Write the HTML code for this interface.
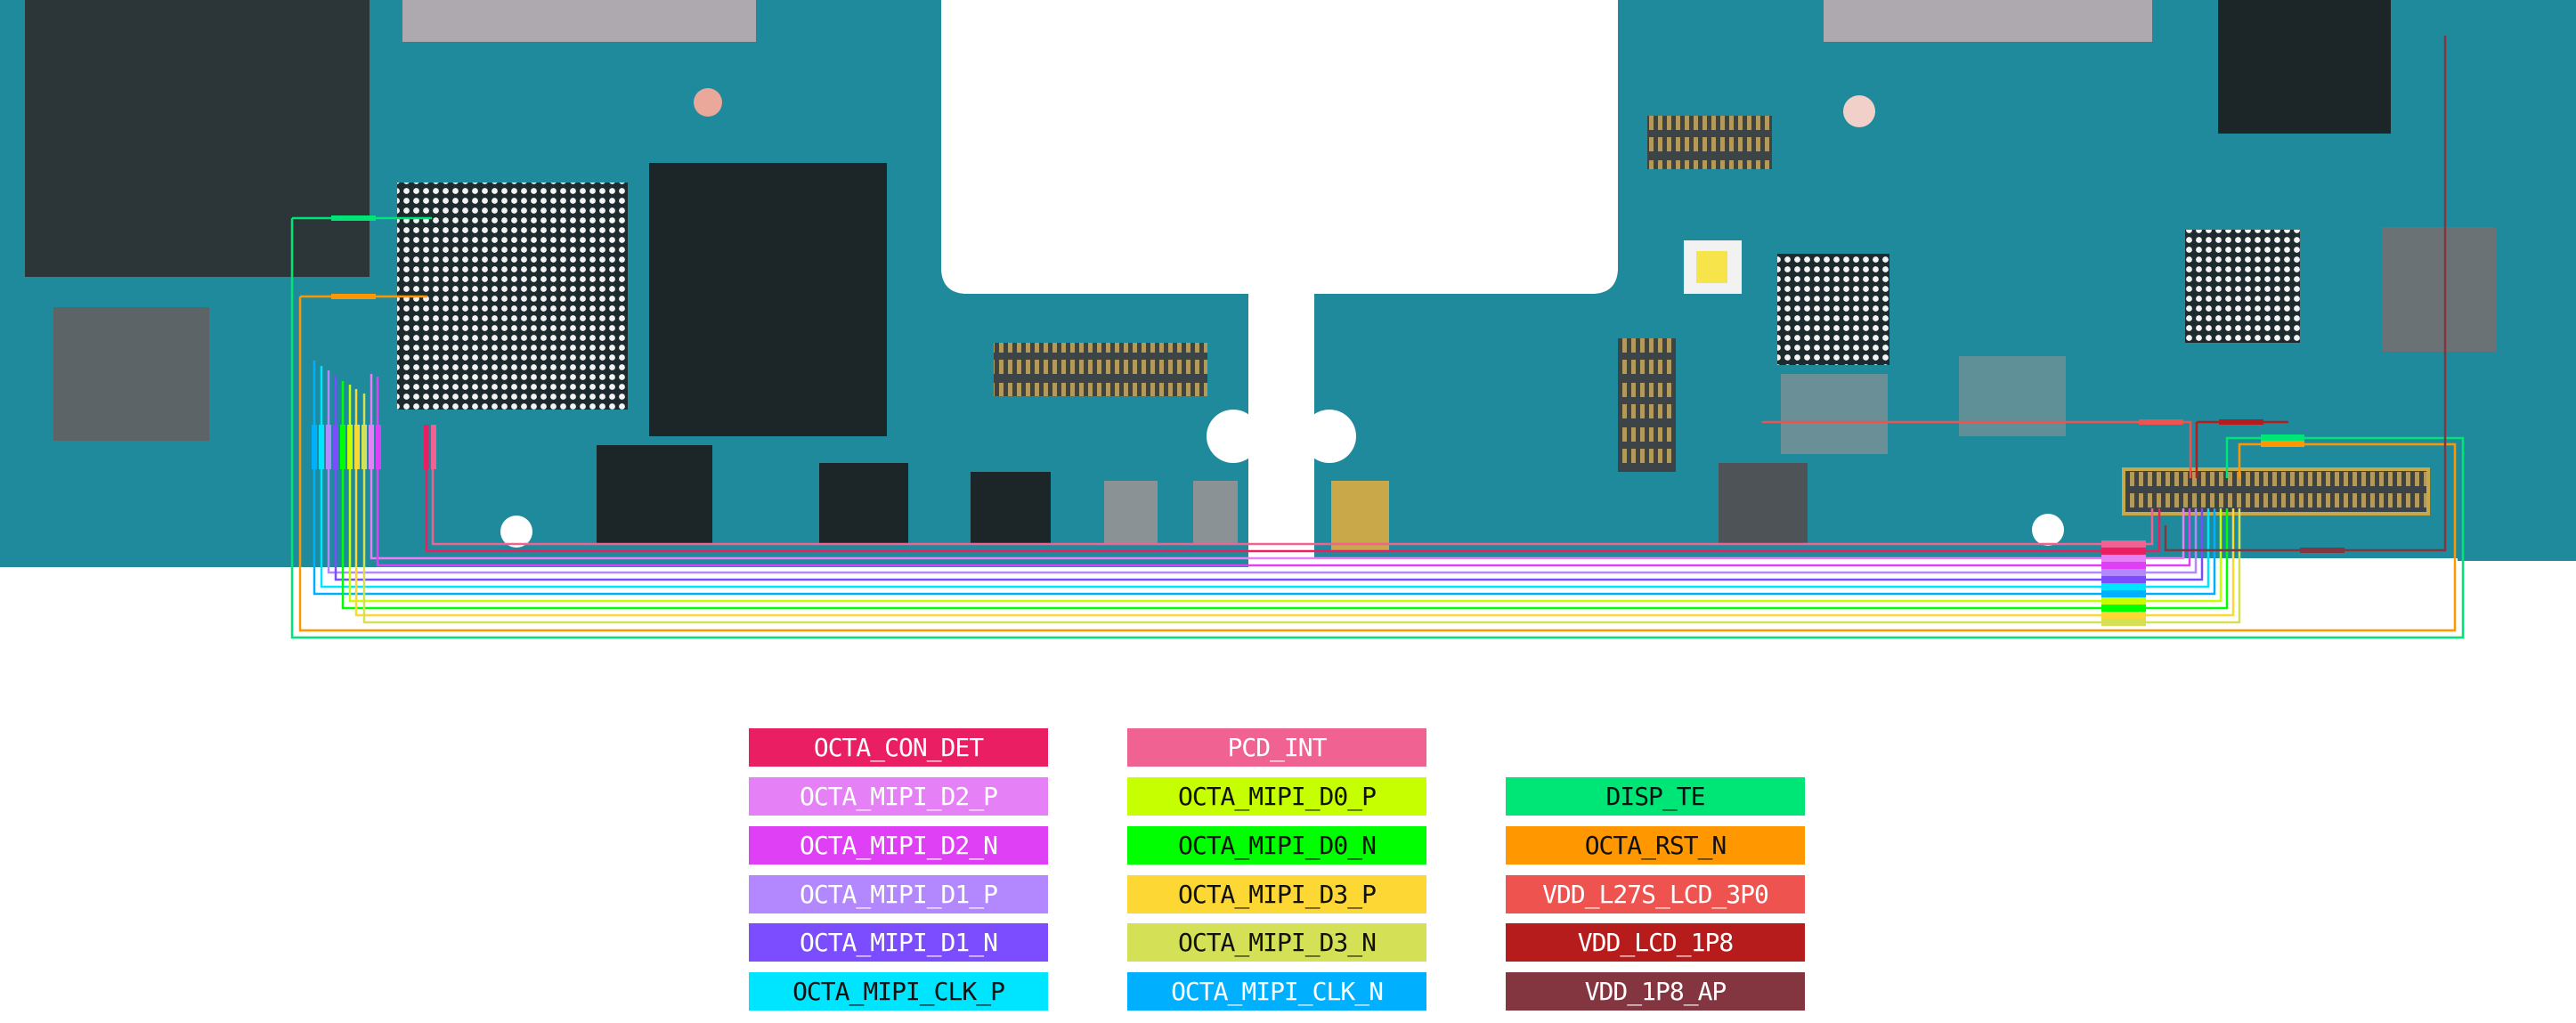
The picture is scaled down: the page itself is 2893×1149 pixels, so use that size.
<!DOCTYPE html>
<html><head><meta charset="utf-8"><style>
html,body{margin:0;padding:0;background:#fff;}
body{width:2893px;height:1149px;position:relative;overflow:hidden;}
svg{position:absolute;left:0;top:0;}
.lg{position:absolute;width:336px;height:43px;font-family:"DejaVu Sans Mono","Liberation Mono",monospace;font-size:28px;line-height:43px;text-align:center;color:#fff;letter-spacing:-1px;}
.dk{color:#111;}
</style></head><body>
<svg width="2893" height="1149" viewBox="0 0 2893 1149">
<defs>
<pattern id="bga" width="11" height="11" patternUnits="userSpaceOnUse"><rect width="11" height="11" fill="#1d2a2e"/><circle cx="5.5" cy="5.5" r="3.4" fill="#f4f4f4"/></pattern>
<pattern id="pins" width="10" height="50" patternUnits="userSpaceOnUse"><rect width="10" height="50" fill="#3d4448"/><rect x="2" y="4" width="5" height="16" fill="#b39a5a"/><rect x="2" y="30" width="5" height="16" fill="#b39a5a"/></pattern>
</defs>
<!-- boards -->
<path d="M0 0 H1057 V300 Q1057 330 1087 330 H1402 V637 H0 Z" fill="#1f8a9b"/>
<path d="M1817 0 H2893 V630 H2760 V627 H1476 V330 H1787 Q1817 330 1817 300 Z" fill="#1f8a9b"/>
<path d="M1057 0 H1817 V300 Q1817 330 1787 330 H1087 Q1057 330 1057 300 Z" fill="#fff"/>
<!-- board textures -->
<rect x="452" y="0" width="397" height="47" fill="#e9b7b7" opacity="0.7"/>
<rect x="2048" y="0" width="369" height="47" fill="#e9b7b7" opacity="0.7"/>
<rect x="28" y="0" width="387" height="311" fill="#2c3538"/>
<rect x="60" y="345" width="175" height="150" fill="#5d6468"/>
<rect x="729" y="183" width="267" height="307" fill="#1c2629"/>
<rect x="446" y="205" width="259" height="255" fill="url(#bga)"/>
<rect x="1116" y="385" width="240" height="60" fill="url(#pins)"/>
<rect x="670" y="500" width="130" height="110" fill="#1c2629"/>
<rect x="920" y="520" width="100" height="90" fill="#1c2629"/>
<rect x="1090" y="530" width="90" height="80" fill="#1c2629"/>
<rect x="1240" y="540" width="60" height="70" fill="#8b9295"/>
<rect x="1340" y="540" width="50" height="70" fill="#8b9295"/>
<rect x="1996" y="285" width="126" height="125" fill="url(#bga)"/>
<rect x="2454" y="258" width="129" height="127" fill="url(#bga)"/>
<rect x="2491" y="0" width="194" height="150" fill="#1c2629"/>
<rect x="2675" y="255" width="129" height="140" fill="#6a7275"/>
<rect x="1817" y="380" width="65" height="150" fill="url(#pins)"/>
<rect x="1850" y="130" width="140" height="60" fill="url(#pins)"/>
<rect x="1891" y="270" width="65" height="60" fill="#f2f2f2"/><rect x="1905" y="282" width="35" height="36" fill="#f7e34a"/>
<rect x="1495" y="540" width="65" height="80" fill="#c9a84a"/>
<rect x="1930" y="520" width="100" height="90" fill="#4d5356"/>
<rect x="2000" y="420" width="120" height="90" fill="#8b9295" opacity="0.7"/>
<rect x="2200" y="400" width="120" height="90" fill="#8b9295" opacity="0.6"/>
<circle cx="795" cy="115" r="16" fill="#e9a89a"/>
<circle cx="2088" cy="125" r="18" fill="#f0d0c8"/>
<circle cx="580" cy="597" r="18" fill="#fff"/><circle cx="2300" cy="595" r="18" fill="#fff"/>
<circle cx="1385" cy="490" r="30" fill="#fff"/><circle cx="1493" cy="490" r="30" fill="#fff"/>
<!-- right connector -->
<rect x="2385" y="527" width="342" height="50" fill="url(#pins)"/>
<rect x="2385" y="527" width="342" height="50" fill="none" stroke="#c9a84a" stroke-width="4"/>
<!-- nets -->
<g fill="none" stroke-width="2.5">
<path d="M486 486 V611 H2417 V571" stroke="#f06292"/>
<path d="M479 480 V619 H2425 V571" stroke="#e91e63"/>
<path d="M417 420 V627 H2452 V571" stroke="#e680f7"/>
<path d="M424 423 V635 H2459 V571" stroke="#df40f5"/>
<path d="M369 416 V643 H2466 V571" stroke="#b388ff"/>
<path d="M377 422 V651 H2473 V571" stroke="#7c4dff"/>
<path d="M361 411 V659 H2480 V571" stroke="#00e5ff"/>
<path d="M353 405 V667 H2487 V571" stroke="#00b0ff"/>
<path d="M393 432 V675 H2494 V571" stroke="#c6ff00"/>
<path d="M385 428 V683 H2501 V571" stroke="#00ff00"/>
<path d="M400 437 V691 H2508 V571" stroke="#fdd835"/>
<path d="M409 442 V699 H2515 V571" stroke="#d4e157"/>
<path d="M337 333 H480 M337 333 V708 H2757 V499 H2515 V537" stroke="#ff9800"/>
<path d="M328 245 H485 M328 245 V716 H2766 V492 H2501 V537" stroke="#00e676"/>
<path d="M1980 475 V474 H2460 V537" stroke="#ef5350"/>
<path d="M2467 474 H2570 M2467 474 V537" stroke="#b71c1c"/>
<path d="M2432 590 V618 H2746 V40" stroke="#833640"/>
</g>
<g>
<rect x="2360" y="607" width="50" height="8" fill="#f06292"/><rect x="2360" y="615" width="50" height="8" fill="#e91e63"/>
<rect x="2360" y="623" width="50" height="8" fill="#e680f7"/><rect x="2360" y="631" width="50" height="8" fill="#df40f5"/>
<rect x="2360" y="639" width="50" height="8" fill="#b388ff"/><rect x="2360" y="647" width="50" height="8" fill="#7c4dff"/>
<rect x="2360" y="655" width="50" height="8" fill="#00e5ff"/><rect x="2360" y="663" width="50" height="8" fill="#00b0ff"/>
<rect x="2360" y="671" width="50" height="8" fill="#c6ff00"/><rect x="2360" y="679" width="50" height="8" fill="#00ff00"/>
<rect x="2360" y="687" width="50" height="8" fill="#fdd835"/><rect x="2360" y="695" width="50" height="8" fill="#d4e157"/>
<rect x="2539" y="488" width="49" height="7" fill="#00e676"/><rect x="2539" y="495" width="49" height="7" fill="#ff9800"/>
<rect x="2402" y="471" width="50" height="6" fill="#ef5350"/><rect x="2492" y="471" width="50" height="6" fill="#b71c1c"/>
<rect x="2583" y="615" width="50" height="6" fill="#833640"/>
<rect x="372" y="242" width="50" height="6" fill="#00e676"/><rect x="372" y="330" width="50" height="6" fill="#ff9800"/>
<rect x="350" y="477" width="6" height="50" fill="#00b0ff"/><rect x="358" y="477" width="6" height="50" fill="#00e5ff"/>
<rect x="366" y="477" width="6" height="50" fill="#b388ff"/><rect x="374" y="477" width="6" height="50" fill="#7c4dff"/>
<rect x="382" y="477" width="6" height="50" fill="#00ff00"/><rect x="390" y="477" width="6" height="50" fill="#c6ff00"/>
<rect x="398" y="477" width="6" height="50" fill="#fdd835"/><rect x="406" y="477" width="6" height="50" fill="#d4e157"/>
<rect x="414" y="477" width="6" height="50" fill="#e680f7"/><rect x="422" y="477" width="6" height="50" fill="#df40f5"/>
<rect x="476" y="477" width="6" height="50" fill="#e91e63"/><rect x="484" y="477" width="6" height="50" fill="#f06292"/>
</g>
</svg>
<div class="lg" style="left:841px;top:818px;background:#e91e63">OCTA_CON_DET</div>
<div class="lg" style="left:841px;top:873px;background:#e680f7">OCTA_MIPI_D2_P</div>
<div class="lg" style="left:841px;top:928px;background:#df40f5">OCTA_MIPI_D2_N</div>
<div class="lg" style="left:841px;top:983px;background:#b388ff">OCTA_MIPI_D1_P</div>
<div class="lg" style="left:841px;top:1037px;background:#7c4dff">OCTA_MIPI_D1_N</div>
<div class="lg dk" style="left:841px;top:1092px;background:#00e5ff">OCTA_MIPI_CLK_P</div>
<div class="lg" style="left:1266px;top:818px;background:#f06292">PCD_INT</div>
<div class="lg dk" style="left:1266px;top:873px;background:#c6ff00">OCTA_MIPI_D0_P</div>
<div class="lg dk" style="left:1266px;top:928px;background:#00ff00">OCTA_MIPI_D0_N</div>
<div class="lg dk" style="left:1266px;top:983px;background:#fdd835">OCTA_MIPI_D3_P</div>
<div class="lg dk" style="left:1266px;top:1037px;background:#d4e157">OCTA_MIPI_D3_N</div>
<div class="lg" style="left:1266px;top:1092px;background:#00b0ff">OCTA_MIPI_CLK_N</div>
<div class="lg dk" style="left:1691px;top:873px;background:#00e676">DISP_TE</div>
<div class="lg dk" style="left:1691px;top:928px;background:#ff9800">OCTA_RST_N</div>
<div class="lg" style="left:1691px;top:983px;background:#ef5350">VDD_L27S_LCD_3P0</div>
<div class="lg" style="left:1691px;top:1037px;background:#b71c1c">VDD_LCD_1P8</div>
<div class="lg" style="left:1691px;top:1092px;background:#833640">VDD_1P8_AP</div>
</body></html>
